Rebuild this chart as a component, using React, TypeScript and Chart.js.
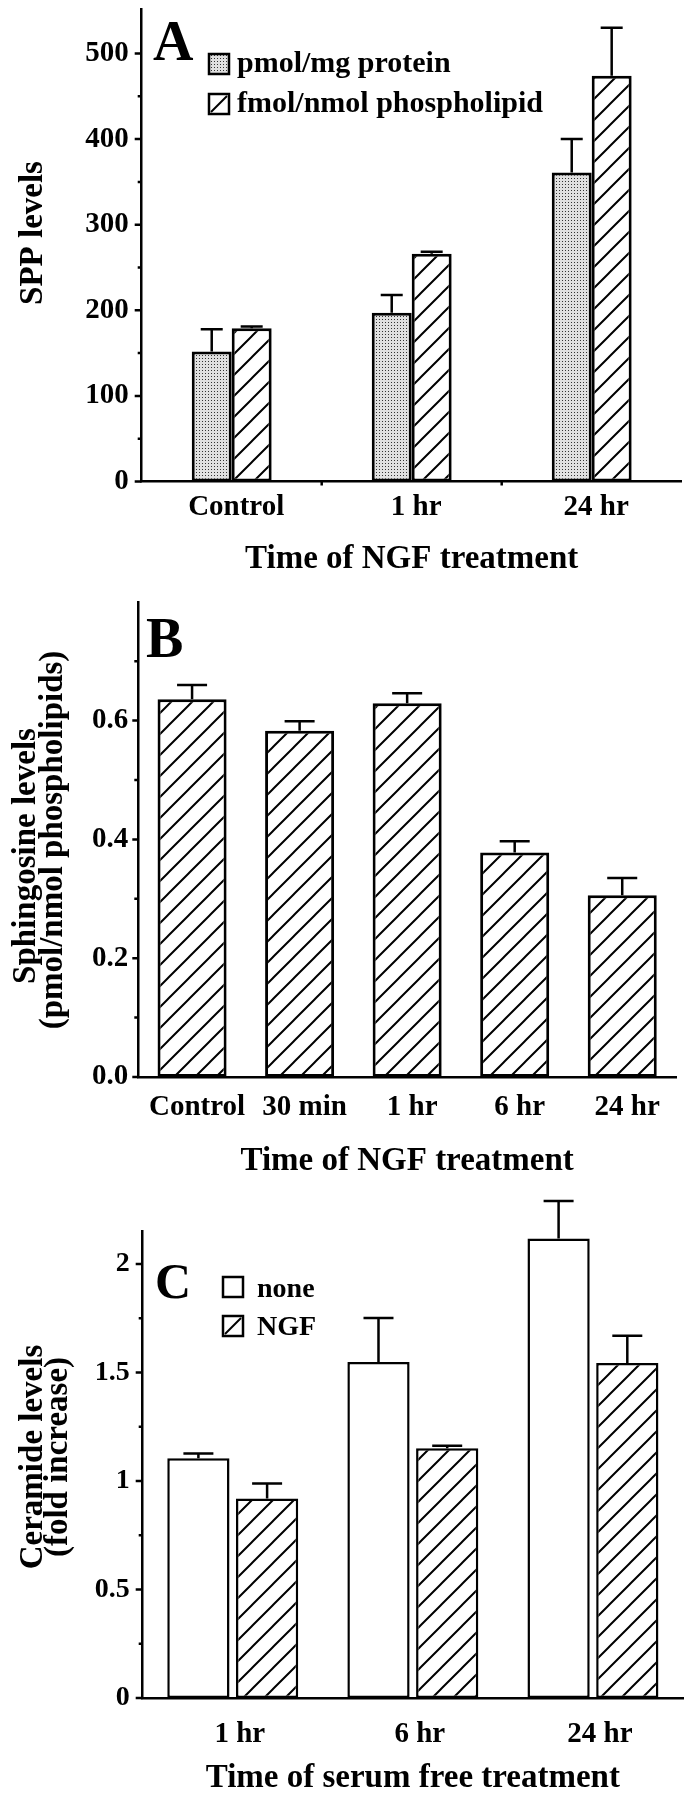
import React, { useEffect, useRef } from 'react';
import { Chart, registerables } from 'chart.js';

Chart.register(...registerables);

const SERIF = '"Liberation Serif", "Times New Roman", Times, serif';

// ---------- Panel A ----------
const aCategories = ['Control', '1 hr', '24 hr'];
const aProtein = [152, 197, 361];
const aProteinErr = [26, 21, 39];
const aPhospholipid = [179, 266, 474];
const aPhospholipidErr = [2, 2.5, 56];
const aTicks = [0, 100, 200, 300, 400, 500];
const aMinorTicks = [50, 150, 250, 350, 450];

// ---------- Panel B ----------
const bCategories = ['Control', '30 min', '1 hr', '6 hr', '24 hr'];
const bSphingosine = [0.636, 0.583, 0.629, 0.378, 0.306];
const bSphingosineErr = [0.024, 0.016, 0.017, 0.019, 0.029];
const bTicks = [0, 0.2, 0.4, 0.6];
const bMinorTicks = [0.1, 0.3, 0.5, 0.7];

// ---------- Panel C ----------
const cCategories = ['1 hr', '6 hr', '24 hr'];
const cNone = [1.105, 1.548, 2.118];
const cNoneErr = [0.022, 0.203, 0.173];
const cNGF = [0.919, 1.151, 1.544];
const cNGFErr = [0.07, 0.012, 0.126];
const cTicks = [0, 0.5, 1, 1.5, 2];
const cMinorTicks = [0.25, 0.75, 1.25, 1.75];

const bold = (size: number) => ({ family: SERIF, size, weight: 'bold' as const, lineHeight: 1.2 });

function hatchPattern(ctx: CanvasRenderingContext2D) {
  const s = 21;
  const c = document.createElement('canvas');
  c.width = s;
  c.height = s;
  const g = c.getContext('2d')!;
  g.fillStyle = '#fff';
  g.fillRect(0, 0, s, s);
  g.strokeStyle = '#000';
  g.lineWidth = 2;
  g.beginPath();
  g.moveTo(-2, s + 2);
  g.lineTo(s + 2, -2);
  g.moveTo(-3, 3);
  g.lineTo(3, -3);
  g.moveTo(s - 3, s + 3);
  g.lineTo(s + 3, s - 3);
  g.stroke();
  return ctx.createPattern(c, 'repeat')!;
}

function dotPattern(ctx: CanvasRenderingContext2D) {
  const c = document.createElement('canvas');
  c.width = 3;
  c.height = 3;
  const g = c.getContext('2d')!;
  g.fillStyle = '#e0e0e0';
  g.fillRect(0, 0, 3, 3);
  g.fillStyle = '#333';
  g.fillRect(1, 1, 1, 1);
  return ctx.createPattern(c, 'repeat')!;
}

type LegendItem = { style: 'dot' | 'slash' | 'white'; box: [number, number, number]; text: [number, number] };

type Decor = {
  letter: string;
  letterSize: number;
  letterPos: [number, number];
  yTitle: string[];
  yTitleSize: number;
  yTitleX: number[];
  yTitleY: number[];
  major: number[];
  minor: number[];
  majorLen: number;
  minorLen: number;
  errors: number[][];
  capWidth: number;
  legend: LegendItem[];
  legendSize: number;
  catTicks: boolean;
};

function makeDecor(d: Decor, dot: CanvasPattern) {
  return {
    id: 'decor',
    afterDatasetsDraw(chart: any) {
      const ctx: CanvasRenderingContext2D = chart.ctx;
      const ys = chart.scales.y;
      ctx.save();
      ctx.strokeStyle = '#000';
      ctx.lineWidth = 2.5;
      chart.data.datasets.forEach((ds: any, i: number) => {
        const meta = chart.getDatasetMeta(i);
        meta.data.forEach((bar: any, j: number) => {
          const v = ds.data[j] as number;
          const top = ys.getPixelForValue(v + d.errors[i][j]);
          ctx.beginPath();
          ctx.moveTo(bar.x, bar.y);
          ctx.lineTo(bar.x, top);
          ctx.moveTo(bar.x - d.capWidth / 2, top);
          ctx.lineTo(bar.x + d.capWidth / 2, top);
          ctx.stroke();
        });
      });
      ctx.restore();
    },
    afterDraw(chart: any) {
      const ctx: CanvasRenderingContext2D = chart.ctx;
      const ys = chart.scales.y;
      const xs = chart.scales.x;
      const ax = chart.chartArea.left;
      const ay = chart.chartArea.bottom;
      ctx.save();
      ctx.strokeStyle = '#000';
      ctx.lineWidth = 2.5;
      ctx.beginPath();
      d.major.forEach((v) => {
        const p = ys.getPixelForValue(v);
        ctx.moveTo(ax - d.majorLen, p);
        ctx.lineTo(ax, p);
      });
      d.minor.forEach((v) => {
        const p = ys.getPixelForValue(v);
        ctx.moveTo(ax - d.minorLen, p);
        ctx.lineTo(ax, p);
      });
      if (d.catTicks) {
        const n = chart.data.labels.length;
        for (let i = 0; i < n - 1; i++) {
          const p = (xs.getPixelForValue(i) + xs.getPixelForValue(i + 1)) / 2;
          ctx.moveTo(p, ay);
          ctx.lineTo(p, ay + 4);
        }
      }
      ctx.stroke();

      ctx.fillStyle = '#000';
      ctx.textAlign = 'left';
      ctx.textBaseline = 'alphabetic';
      ctx.font = `bold ${d.letterSize}px ${SERIF}`;
      ctx.fillText(d.letter, d.letterPos[0], d.letterPos[1]);

      ctx.font = `bold ${d.legendSize}px ${SERIF}`;
      d.legend.forEach((item, i) => {
        const [bx, by, s] = item.box;
        ctx.fillStyle = item.style === 'dot' ? dot : '#fff';
        ctx.fillRect(bx, by, s, s);
        ctx.lineWidth = 2.5;
        ctx.strokeStyle = '#000';
        ctx.strokeRect(bx, by, s, s);
        if (item.style === 'slash') {
          ctx.lineWidth = 2;
          ctx.beginPath();
          ctx.moveTo(bx + 2, by + s - 2);
          ctx.lineTo(bx + s - 2, by + 2);
          ctx.stroke();
        }
        ctx.fillStyle = '#000';
        ctx.fillText(chart.data.datasets[i].label, item.text[0], item.text[1]);
      });

      ctx.font = `bold ${d.yTitleSize}px ${SERIF}`;
      ctx.textAlign = 'center';
      d.yTitle.forEach((t, i) => {
        ctx.save();
        ctx.translate(d.yTitleX[i], d.yTitleY[i]);
        ctx.rotate(-Math.PI / 2);
        ctx.fillText(t, 0, 0);
        ctx.restore();
      });
      ctx.restore();
    },
  };
}

function zeroPad(s: any) {
  s.paddingTop = 0;
  s.paddingBottom = 0;
  s.paddingLeft = 0;
  s.paddingRight = 0;
}

function xScale(title: string, labelOffset: number, padding: number, titlePad: number, height: number) {
  return {
    grid: { display: false, drawTicks: false },
    border: { display: true, color: '#000', width: 2.5 },
    ticks: { color: '#000', font: bold(29), padding, labelOffset, maxRotation: 0, autoSkip: false },
    title: { display: true, text: title, color: '#000', font: bold(33), padding: { top: 0, bottom: titlePad } },
    afterFit: (s: any) => {
      s.height = height;
      zeroPad(s);
    },
  };
}

function yScale(max: number, ticks: number[], size: number, padding: number, width: number, fmt: (v: number) => string) {
  return {
    min: 0,
    max,
    grid: { display: false, drawTicks: false },
    border: { display: true, color: '#000', width: 2.5 },
    ticks: { color: '#000', font: bold(size), padding, callback: (v: any) => fmt(Number(v)) },
    afterBuildTicks: (s: any) => {
      s.ticks = ticks.map((v) => ({ value: v }));
    },
    afterFit: (s: any) => {
      s.width = width;
      zeroPad(s);
    },
  };
}

function baseOptions(pad: { top: number; right: number }, catPct: number, barPct: number) {
  return {
    animation: false,
    responsive: false,
    devicePixelRatio: 1,
    layout: { padding: { left: 0, top: pad.top, right: pad.right, bottom: 0 } },
    datasets: { bar: { categoryPercentage: catPct, barPercentage: barPct } },
    plugins: { legend: { display: false }, tooltip: { enabled: false } },
  };
}

function buildA(ctx: CanvasRenderingContext2D) {
  const dot = dotPattern(ctx);
  const hatch = hatchPattern(ctx);
  return {
    type: 'bar',
    data: {
      labels: aCategories,
      datasets: [
        { label: 'pmol/mg protein', data: aProtein, backgroundColor: dot, borderColor: '#000', borderWidth: 3, borderSkipped: false },
        { label: 'fmol/nmol phospholipid', data: aPhospholipid, backgroundColor: hatch, borderColor: '#000', borderWidth: 3, borderSkipped: false },
      ],
    },
    options: {
      ...baseOptions({ top: 9, right: 8.3 }, 0.444, 1),
      scales: {
        x: xScale('Time of NGF treatment', 4.5, 9, 20.5, 118.5),
        y: yScale(552, aTicks, 29, 13, 141.7, (v) => String(v)),
      },
    },
    plugins: [
      makeDecor(
        {
          letter: 'A',
          letterSize: 56,
          letterPos: [153, 60],
          yTitle: ['SPP levels'],
          yTitleSize: 33,
          yTitleX: [41.5],
          yTitleY: [233],
          major: aTicks,
          minor: aMinorTicks,
          majorLen: 7,
          minorLen: 4,
          errors: [aProteinErr, aPhospholipidErr],
          capWidth: 22,
          legend: [
            { style: 'dot', box: [209, 54, 20], text: [237, 72] },
            { style: 'slash', box: [209, 94, 20], text: [237, 112] },
          ],
          legendSize: 30,
          catTicks: true,
        },
        dot
      ),
    ],
  };
}

function buildB(ctx: CanvasRenderingContext2D) {
  const dot = dotPattern(ctx);
  const hatch = hatchPattern(ctx);
  return {
    type: 'bar',
    data: {
      labels: bCategories,
      datasets: [
        { label: 'Sphingosine', data: bSphingosine, backgroundColor: hatch, borderColor: '#000', borderWidth: 3, borderSkipped: false },
      ],
    },
    options: {
      ...baseOptions({ top: 1.8, right: 14 }, 0.642, 1),
      scales: {
        x: xScale('Time of NGF treatment', 5, 13, 3.5, 108),
        y: yScale(0.8, bTicks, 29, 10, 138.3, (v) => v.toFixed(1)),
      },
    },
    plugins: [
      makeDecor(
        {
          letter: 'B',
          letterSize: 56,
          letterPos: [146, 57],
          yTitle: ['Sphingosine levels', '(pmol/nmol phospholipids)'],
          yTitleSize: 33,
          yTitleX: [35, 62],
          yTitleY: [256, 240],
          major: bTicks,
          minor: bMinorTicks,
          majorLen: 6,
          minorLen: 4,
          errors: [bSphingosineErr],
          capWidth: 30,
          legend: [],
          legendSize: 28,
          catTicks: false,
        },
        dot
      ),
    ],
  };
}

function buildC(ctx: CanvasRenderingContext2D) {
  const dot = dotPattern(ctx);
  const hatch = hatchPattern(ctx);
  return {
    type: 'bar',
    data: {
      labels: cCategories,
      datasets: [
        { label: 'none', data: cNone, backgroundColor: '#fff', borderColor: '#000', borderWidth: 2.5, borderSkipped: false },
        { label: 'NGF', data: cNGF, backgroundColor: hatch, borderColor: '#000', borderWidth: 2.5, borderSkipped: false },
      ],
    },
    options: {
      ...baseOptions({ top: 46.5, right: 7 }, 0.763, 0.906),
      scales: {
        x: xScale('Time of serum free treatment', 7, 19, 2, 102),
        y: yScale(2.15, cTicks, 28, 13, 142.7, (v) => String(v)),
      },
    },
    plugins: [
      makeDecor(
        {
          letter: 'C',
          letterSize: 50,
          letterPos: [155, 113],
          yTitle: ['Ceramide levels', '(fold increase)'],
          yTitleSize: 33,
          yTitleX: [42, 67],
          yTitleY: [272, 272],
          major: cTicks,
          minor: cMinorTicks,
          majorLen: 7,
          minorLen: 4,
          errors: [cNoneErr, cNGFErr],
          capWidth: 30,
          legend: [
            { style: 'white', box: [223, 92, 20], text: [257, 112] },
            { style: 'slash', box: [223, 131, 20], text: [257, 150] },
          ],
          legendSize: 28,
          catTicks: false,
        },
        dot
      ),
    ],
  };
}

function Panel({ height, build }: { height: number; build: (ctx: CanvasRenderingContext2D) => any }) {
  const ref = useRef<HTMLCanvasElement>(null);
  useEffect(() => {
    const canvas = ref.current!;
    const ctx = canvas.getContext('2d')!;
    const chart = new Chart(ctx, build(ctx));
    return () => chart.destroy();
  }, []);
  return <canvas ref={ref} width={690} height={height} style={{ display: 'block', width: 690, height }} />;
}

export default function App() {
  return (
    <div style={{ position: 'absolute', left: 0, top: 0, width: 690, height: 1800, background: '#fff' }}>
      <Panel height={600} build={buildA} />
      <Panel height={585} build={buildB} />
      <Panel height={615} build={buildC} />
    </div>
  );
}
